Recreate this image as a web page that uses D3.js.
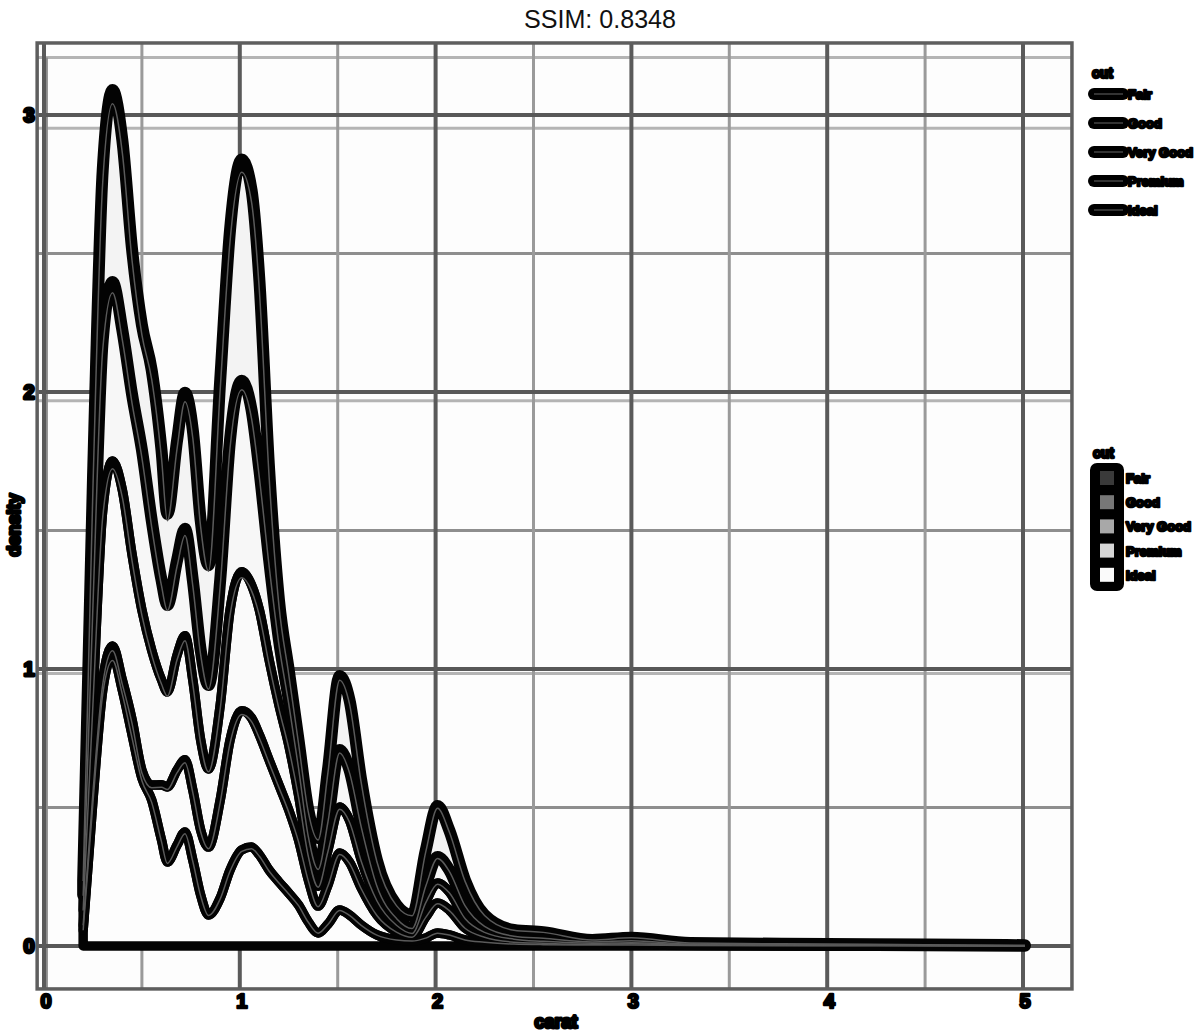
<!DOCTYPE html>
<html>
<head>
<meta charset="utf-8">
<script src="https://cdn.jsdelivr.net/npm/d3@7"></script>
<style>
  body { margin: 0; background: #fff; }
  svg text { font-family: "Liberation Sans", Arial, sans-serif; }
  .blob { font-weight: bold; fill: #000; stroke: #000; stroke-linejoin: round; }
</style>
</head>
<body>
<svg id="chart" width="1200" height="1034"></svg>
<script>
// carat grid and stacked density per cut
const carat = [0.2,0.25,0.3,0.35,0.4,0.45,0.5,0.55,0.6,0.63,0.68,0.72,0.76,0.8,0.84,0.9,0.95,1.01,1.06,1.1,
  1.15,1.2,1.25,1.3,1.35,1.4,1.45,1.51,1.56,1.62,1.7,1.8,1.88,1.95,2.01,2.07,2.15,2.25,2.4,2.55,2.8,3.0,3.3,4.0,4.5,5.01];
const fair = [0.054,0.433,0.614,0.693,0.686,0.523,0.451,0.542,0.469,0.329,0.433,0.491,0.542,0.469,0.433,0.722,0.758,0.798,0.794,0.686,
  0.325,0.144,0.108,0.090,0.090,0.108,0.181,0.267,0.253,0.162,0.090,0.047,0.047,0.126,0.184,0.144,0.090,0.040,0.022,0.022,0.007,0.011,0.004,0.003,0.002,0.002];
const good = [0.054,0.361,0.614,0.646,0.578,0.578,0.578,0.469,0.361,0.314,0.343,0.386,0.361,0.325,0.303,0.451,0.614,0.690,0.632,0.505,
  0.361,0.235,0.162,0.108,0.072,0.065,0.108,0.206,0.181,0.126,0.054,0.025,0.018,0.061,0.094,0.079,0.047,0.022,0.011,0.011,0.005,0.007,0.002,0.001,0.001,0.001];
const veryGood = [0.054,0.325,0.614,0.668,0.686,0.596,0.578,0.487,0.379,0.343,0.415,0.448,0.397,0.325,0.282,0.343,0.469,0.502,0.480,0.451,
  0.361,0.289,0.235,0.162,0.090,0.072,0.126,0.166,0.152,0.101,0.054,0.025,0.014,0.054,0.072,0.065,0.036,0.018,0.011,0.007,0.004,0.004,0.002,0.001,0.001,0.000];
const premium = [0.018,0.036,0.036,0.036,0.036,0.054,0.029,0.054,0.199,0.271,0.271,0.260,0.253,0.235,0.245,0.354,0.469,0.502,0.466,0.433,
  0.397,0.350,0.300,0.235,0.152,0.097,0.141,0.206,0.191,0.134,0.072,0.029,0.014,0.076,0.108,0.090,0.043,0.018,0.007,0.005,0.002,0.004,0.001,0.001,0.000,0.000];
const ideal = [0.058,0.527,0.924,1.047,0.924,0.762,0.606,0.527,0.383,0.303,0.365,0.412,0.310,0.184,0.112,0.173,0.274,0.347,0.357,0.329,
  0.274,0.231,0.191,0.148,0.087,0.047,0.079,0.130,0.112,0.076,0.040,0.022,0.018,0.029,0.047,0.040,0.022,0.014,0.007,0.005,0.004,0.004,0.002,0.001,0.001,0.000];

const cuts = ["Fair", "Good", "Very Good", "Premium", "Ideal"];
const xTicks = [0, 1, 2, 3, 4, 5];
const xMinor = [0.5, 1.5, 2.5, 3.5, 4.5];
const yTicks = [0, 1, 2, 3];
const yMinor = [0.5, 1.5, 2.5];
const keyFills = ["#3a3a3a", "#777777", "#a8a8a8", "#d6d6d6", "#fafafa"];
const layerFills = { "Fair": "#f3f3f3", "Good": "#f7f7f7", "Very Good": "#fafafa", "Premium": "#fbfbfb", "Ideal": "#fdfdfd" };

const rows = carat.map((c, i) => ({
  carat: c, "Fair": fair[i], "Good": good[i], "Very Good": veryGood[i], "Premium": premium[i], "Ideal": ideal[i]
}));

const svg = d3.select("#chart");

// scales
const x = d3.scaleLinear().domain([0, 5]).range([44, 1023]);
const y = d3.scaleLinear().domain([0, 3]).range([946, 115]);
// faint second copy, squashed a little toward the baseline
const yGhost = d3.scaleLinear().domain([0, 3]).range([946, 946 - 831 * 0.984]);

const xLo = -0.035, xHi = 5.25, yLo = -0.155, yHi = 3.26;

// panel background
svg.append("rect")
  .attr("x", x(xLo)).attr("y", y(yHi))
  .attr("width", x(xHi) - x(xLo)).attr("height", y(yLo) - y(yHi))
  .attr("fill", "#fdfdfd");

// ghost grid
svg.append("g").selectAll("line").data(yTicks.concat([yHi])).join("line")
  .attr("x1", x(xLo)).attr("x2", x(xHi))
  .attr("y1", d => yGhost(d)).attr("y2", d => yGhost(d))
  .attr("stroke", "#b4b4b4").attr("stroke-width", 3);
svg.append("line")
  .attr("x1", x(xLo) + 9).attr("x2", x(xLo) + 9)
  .attr("y1", yGhost(yHi)).attr("y2", y(yLo))
  .attr("stroke", "#8c8c8c").attr("stroke-width", 3.5);

// main grid
const grid = svg.append("g");
grid.selectAll(".hmin").data(yMinor).join("line")
  .attr("x1", x(xLo)).attr("x2", x(xHi))
  .attr("y1", d => y(d)).attr("y2", d => y(d))
  .attr("stroke", "#8e8e8e").attr("stroke-width", 3);
grid.selectAll(".vmin").data(xMinor).join("line")
  .attr("x1", d => x(d)).attr("x2", d => x(d))
  .attr("y1", y(yHi)).attr("y2", y(yLo))
  .attr("stroke", "#9a9a9a").attr("stroke-width", 3);
grid.selectAll(".hmaj").data(yTicks).join("line")
  .attr("x1", x(xLo)).attr("x2", x(xHi))
  .attr("y1", d => y(d)).attr("y2", d => y(d))
  .attr("stroke", "#585858").attr("stroke-width", 4);
grid.selectAll(".vmaj").data(xTicks).join("line")
  .attr("x1", d => x(d)).attr("x2", d => x(d))
  .attr("y1", y(yHi)).attr("y2", y(yLo))
  .attr("stroke", "#5a5a5a").attr("stroke-width", 4);

// panel border
svg.append("rect")
  .attr("x", x(xLo)).attr("y", y(yHi))
  .attr("width", x(xHi) - x(xLo)).attr("height", y(yLo) - y(yHi))
  .attr("fill", "none").attr("stroke", "#5e5e5e").attr("stroke-width", 3.5);

// stacked densities, Ideal at the bottom, Fair on top
const stack = d3.stack().keys(cuts.slice().reverse());
const series = stack(rows);

const area = d3.area()
  .x(d => x(d.data.carat))
  .y0(d => y(d[0]))
  .y1(d => y(d[1]))
  .curve(d3.curveMonotoneX);

const ghostLine = d3.line()
  .x(d => x(d.data.carat))
  .y(d => yGhost(d[1]))
  .curve(d3.curveMonotoneX);

const plot = svg.append("g");
plot.selectAll(".fill").data(series).join("path")
  .attr("d", area)
  .attr("fill", d => layerFills[d.key]);
plot.selectAll(".edge").data(series).join("path")
  .attr("d", area)
  .attr("fill", "none")
  .attr("stroke", "#030303")
  .attr("stroke-width", d => d.key === "Fair" ? 12 : 9.5)
  .attr("stroke-linejoin", "round")
  .attr("stroke-linecap", "round");
plot.selectAll(".ghost").data(series).join("path")
  .attr("d", ghostLine)
  .attr("fill", "none")
  .attr("stroke", "#5a5a5a")
  .attr("stroke-width", 1.5);

// tick labels
svg.append("g").selectAll("text").data(xTicks).join("text")
  .attr("class", "blob")
  .attr("x", d => x(d) + 2).attr("y", 1008)
  .attr("text-anchor", "middle")
  .attr("font-size", 20).attr("stroke-width", 2.5)
  .text(d => d);
svg.append("g").selectAll("text").data(yTicks).join("text")
  .attr("class", "blob")
  .attr("x", 29).attr("y", d => y(d) + 7)
  .attr("text-anchor", "middle")
  .attr("font-size", 20).attr("stroke-width", 3)
  .text(d => d);

// axis titles
svg.append("text").attr("class", "blob")
  .attr("x", 556).attr("y", 1028)
  .attr("text-anchor", "middle")
  .attr("font-size", 18).attr("stroke-width", 3)
  .text("carat");
svg.append("text").attr("class", "blob")
  .attr("transform", "translate(20,525) rotate(-90)")
  .attr("text-anchor", "middle")
  .attr("font-size", 18).attr("stroke-width", 3)
  .text("density");

// title
svg.append("text")
  .attr("x", 600).attr("y", 28)
  .attr("text-anchor", "middle")
  .attr("font-size", 26)
  .attr("textLength", 152).attr("lengthAdjust", "spacingAndGlyphs")
  .attr("fill", "#111")
  .text("SSIM: 0.8348");

// legend with line keys
const leg1 = svg.append("g").attr("transform", "translate(1090,0)");
leg1.append("text").attr("class", "blob")
  .attr("x", 2).attr("y", 78).attr("font-size", 14).attr("stroke-width", 2.5)
  .text("cut");
const leg1Rows = leg1.selectAll("g").data(cuts).join("g")
  .attr("transform", (d, i) => `translate(0,${94 + i * 29})`);
leg1Rows.append("line")
  .attr("x1", 4).attr("x2", 33).attr("y1", 0).attr("y2", 0)
  .attr("stroke", "#000").attr("stroke-width", 12).attr("stroke-linecap", "round");
leg1Rows.append("line")
  .attr("x1", 4).attr("x2", 33).attr("y1", 0).attr("y2", 0)
  .attr("stroke", "#444").attr("stroke-width", 1.5);
leg1Rows.append("text").attr("class", "blob")
  .attr("x", 38).attr("y", 5).attr("font-size", 13).attr("stroke-width", 2.5)
  .text(d => d);

// legend with fill keys
const leg2 = svg.append("g").attr("transform", "translate(1090,0)");
leg2.append("text").attr("class", "blob")
  .attr("x", 3).attr("y", 458).attr("font-size", 14).attr("stroke-width", 2.5)
  .text("cut");
leg2.append("rect")
  .attr("x", 2).attr("y", 465).attr("width", 30).attr("height", 124).attr("rx", 5)
  .attr("fill", "#000").attr("stroke", "#000").attr("stroke-width", 4);
const leg2Rows = leg2.selectAll(".key").data(cuts).join("g")
  .attr("transform", (d, i) => `translate(0,${478 + i * 24.2})`);
leg2Rows.append("rect")
  .attr("x", 10).attr("y", -7).attr("width", 14).attr("height", 14)
  .attr("fill", (d, i) => keyFills[i]);
leg2Rows.append("text").attr("class", "blob")
  .attr("x", 36).attr("y", 5).attr("font-size", 13).attr("stroke-width", 2.5)
  .text(d => d);
</script>
</body>
</html>
